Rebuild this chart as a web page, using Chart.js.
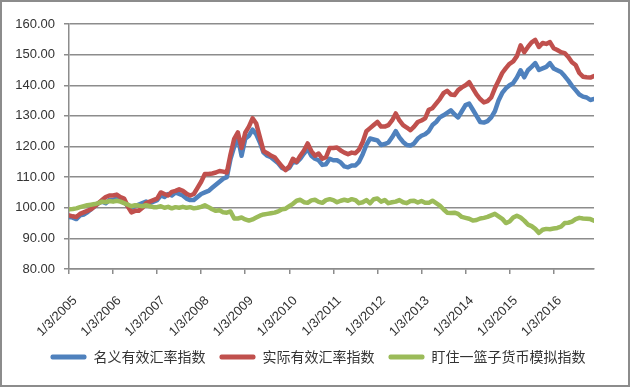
<!DOCTYPE html>
<html>
<head>
<meta charset="utf-8">
<script src="https://cdn.jsdelivr.net/npm/chart.js@4/dist/chart.umd.min.js"></script>
<style>
  html, body { margin: 0; padding: 0; background: #fff; }
  #box { width: 630px; height: 387px; box-sizing: border-box; border: 2px solid #8c8c8c; }
  canvas { display: block; }
</style>
</head>
<body>
<div id="box"><canvas id="rateChart" width="626" height="383"></canvas></div>
<script>
// monthly values, Jan 2005 .. Dec 2016
const yearLabels = ['1/3/2005', '1/3/2006', '1/3/2007', '1/3/2008', '1/3/2009', '1/3/2010',
  '1/3/2011', '1/3/2012', '1/3/2013', '1/3/2014', '1/3/2015', '1/3/2016'];

const seriesNames = ['名义有效汇率指数', '实际有效汇率指数', '盯住一篮子货币模拟指数'];

const nominal = [
  97, 96.8, 96.3, 97.5, 97.8, 98.5, 99.5, 100.5, 101.5, 102, 101.5, 102.5,
  102.5, 103, 102.5, 102, 100.5, 100, 100.5, 101, 101.5, 102, 101.5, 102,
  102.5, 104, 103.5, 104.5, 104, 105, 104.5, 104, 103, 102.5, 102.5, 103.5,
  104.5, 105, 105.5, 106.5, 107.5, 108.5, 109.5, 110, 116, 120, 123, 117,
  122.5, 123.5, 125.5, 124, 121.3, 118, 117, 116.5, 115.5, 114.5, 113, 112.5,
  113, 115, 114.8, 116, 117.7, 119.3, 117, 116, 115.5, 114, 114.2, 116,
  115.5, 115.5, 114.8, 113.5, 113.2, 113.8, 113.8, 115, 117.5, 120.5, 122.6, 122.3,
  122, 120.5, 120.8, 121.3, 123, 125, 123, 121.5, 120.5, 120.3, 121, 122.6,
  123.5, 124, 125, 127, 128, 129.5, 130.2, 131, 131.8, 130.5, 129.5, 131.5,
  133.5, 134, 132, 130, 128, 127.8, 128.3, 129.5, 131.5, 135, 137.5, 139,
  140, 140.7, 142.5, 144.9, 142.6, 144.9, 146, 147.2, 145, 145.5, 146, 147.2,
  145.5, 144.9, 144.3, 143, 141.5, 139.8, 138.4, 137, 136.3, 136, 135.2, 135.5
];

const real = [
  97.5, 97.2, 97, 98, 98.5, 99, 99.5, 100.5, 101.5, 102.5, 103.5, 104,
  104, 104.3, 103.5, 103, 100.5, 98.5, 99, 99, 100, 101.5, 102, 102.5,
  103, 105, 104.5, 104, 105.2, 105.5, 106, 105.5, 104.6, 104, 104.5, 106.5,
  108.5, 111, 111, 111.2, 111.5, 112, 111.8, 111.5, 117.5, 122.5, 124.6, 119.5,
  124.5, 126.5, 129.2, 127.5, 123, 118.5, 117.8, 117, 116.5, 115, 113.5, 112.3,
  113.5, 116, 115, 117, 118.7, 121, 118.5, 117, 117.7, 116, 116.5, 119.5,
  119.5, 119.7, 118.7, 118, 117.5, 118, 117.8, 119, 121.5, 125, 126, 127,
  128, 126.5, 126.5, 127, 128.5, 130.8, 128.5, 127, 126.2, 125.3, 126.5, 128,
  128.5, 129.2, 132, 132.5, 134, 135.5, 137.4, 138.2, 137, 136.8, 138.4, 139.3,
  140, 141, 139, 137, 135.5, 134.4, 134.8, 136, 139, 141.5, 144, 145.6,
  147, 147.8, 149.5, 153, 150.8, 152.5, 154, 154.8, 152.5, 153.8, 153.5, 154.1,
  152.1, 151.5, 150.8, 150.5, 149.2, 147.5, 146.6, 144, 142.8, 142.6, 142.5, 143
];

const basket = [
  99.5, 99.6, 99.8, 100.2, 100.5, 100.8, 101, 101.2, 101.5, 102, 101.8, 102.2,
  102, 102.3, 102, 101.5, 101, 100.5, 100.8, 100.7, 100.5, 100.8, 100.5, 100.2,
  100.2, 100.5, 100, 100.3, 99.8, 100.2, 100, 100.3, 100, 100.2, 99.8, 100,
  100.3, 100.8, 100.2, 99.5, 99, 99.2, 98.5, 98.4, 98.8, 96.5, 96.5, 96.8,
  96.2, 95.8, 96.2, 96.8, 97.4, 97.8, 98, 98.2, 98.4, 98.8, 99.5, 99.7,
  100.5, 101.3, 102.3, 102.6, 101.8, 101.6, 102.4, 102.6, 101.9, 101.6, 102.5, 102.8,
  102.5, 101.8, 102.3, 102.6, 102.3, 102.8, 102.5, 101.5, 101.8, 102.5, 101.5, 102.8,
  103, 102, 102.5, 101.5, 101.8, 102, 102.5, 101.8, 101.5, 102.2, 102.3, 101.7,
  102.2, 101.6, 101.6, 102.3, 101.5, 100.7, 99.5, 98.4, 98.3, 98.4, 98, 97,
  96.7, 96.4, 95.8, 96, 96.5, 96.7, 97, 97.5, 98, 97.2, 96.4, 95,
  95.5, 96.8, 97.4, 96.8, 95.8, 94.5, 94, 93.1, 91.8, 92.8, 93.1, 93,
  93.2, 93.4, 93.8, 95, 95.1, 95.5, 96.3, 96.7, 96.5, 96.4, 96.3, 95.8
];

const colors = ['#4f81bd', '#c0504d', '#9bbb59'];
const gridColor = '#8c8c8c';

function toPoints(values) {
  return values.map((v, i) => ({ x: i, y: v }));
}

// the legend sits a bit right of centre in the original
const nudgeLegend = {
  id: 'nudgeLegend',
  afterLayout(chart) {
    if (chart.legend) {
      chart.legend.left += 20;
      chart.legend.right += 20;
    }
  }
};

const ctx = document.getElementById('rateChart').getContext('2d');

new Chart(ctx, {
  type: 'line',
  data: {
    datasets: [nominal, real, basket].map((vals, i) => ({
      label: seriesNames[i],
      data: toPoints(vals),
      borderColor: colors[i],
      backgroundColor: colors[i],
      borderWidth: 4.5,
      borderJoinStyle: 'round',
      borderCapStyle: 'round',
      pointRadius: 0,
      tension: 0,
      order: 3 - i   // green drawn on top, blue at the bottom
    }))
  },
  options: {
    responsive: false,
    animation: false,
    layout: { padding: { top: 22, right: 34, bottom: 11, left: 0 } },
    plugins: {
      tooltip: { enabled: false },
      legend: {
        position: 'bottom',
        labels: {
          boxWidth: 36,
          boxHeight: 5,
          padding: 14,
          color: '#333',
          font: { family: '"Noto Sans CJK SC"', size: 14 },
          useBorderRadius: true,
          borderRadius: 2,
          sort: (a, b) => a.datasetIndex - b.datasetIndex,
          generateLabels: (chart) => Chart.defaults.plugins.legend.labels.generateLabels(chart)
            .map(l => Object.assign(l, { lineWidth: 0 }))
        }
      }
    },
    scales: {
      x: {
        type: 'linear',
        min: 0,
        max: 143,
        afterFit: (s) => { s.height = 67; },
        grid: { drawOnChartArea: false, color: gridColor, lineWidth: 1.5, tickLength: 5 },
        border: { color: gridColor, width: 1.5 },
        ticks: {
          stepSize: 12,
          includeBounds: false,
          autoSkip: false,
          maxRotation: 45,
          minRotation: 45,
          padding: 19,
          labelOffset: 6,
          color: '#333',
          font: { family: '"Liberation Sans", Arial, sans-serif', size: 13 },
          callback: (v) => (v % 12 === 0 ? yearLabels[v / 12] : '')
        }
      },
      y: {
        min: 80,
        max: 160,
        afterFit: (s) => { s.width = 67; },
        grid: { color: gridColor, lineWidth: 1.5, tickLength: 5 },
        border: { color: gridColor, width: 1.5 },
        ticks: {
          stepSize: 10,
          padding: 9,
          color: '#333',
          font: { family: '"Liberation Sans", Arial, sans-serif', size: 13 },
          callback: (v) => v.toFixed(2)
        }
      }
    }
  },
  plugins: [nudgeLegend]
});
</script>
</body>
</html>
